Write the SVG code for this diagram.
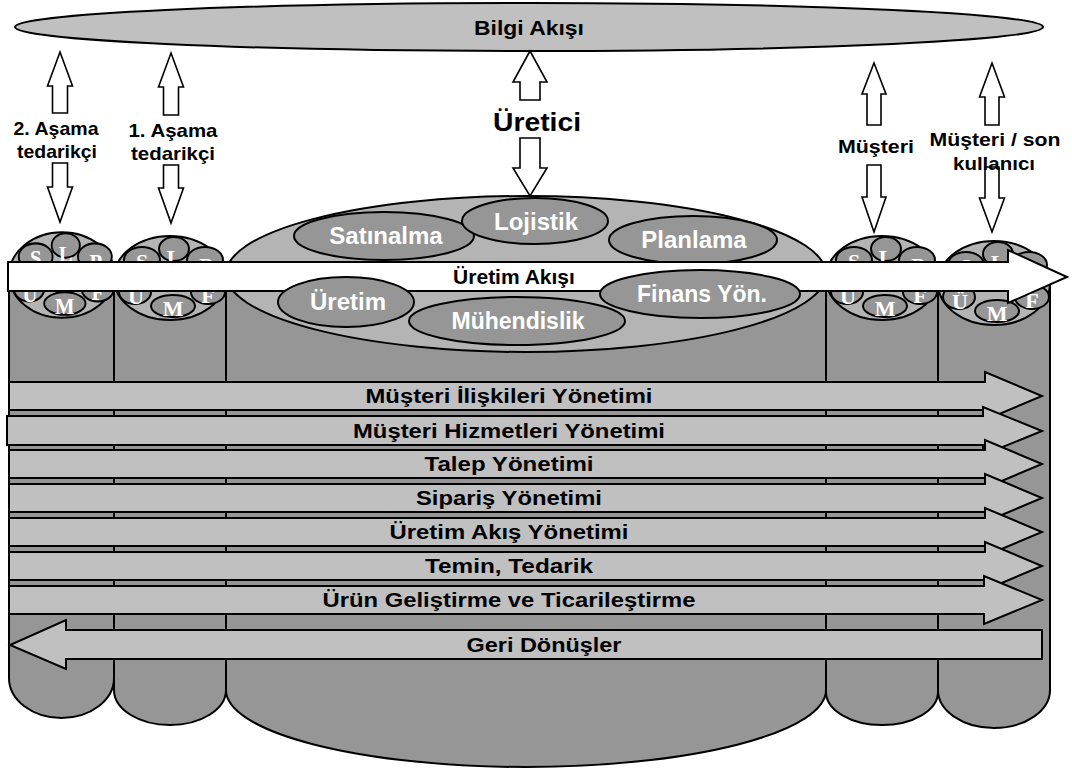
<svg xmlns="http://www.w3.org/2000/svg" width="1072" height="772" viewBox="0 0 1072 772">
<defs>
<style>
.body{fill:#969696;stroke:#000;stroke-width:2}
.cap{fill:#b4b4b4;stroke:#000;stroke-width:2}
.sub{fill:#969696;stroke:#000;stroke-width:2}
.bar{fill:#c0c0c0;stroke:#000;stroke-width:2}
.flow{fill:#fff;stroke:#000;stroke-width:2}
.va{fill:#fff;stroke:#000;stroke-width:1.6}
.info{fill:#c0c0c0;stroke:#000;stroke-width:2}
text{font-family:"Liberation Sans",Arial,sans-serif;font-weight:bold;text-anchor:middle;fill:#000}
.ltr{font-family:"Liberation Serif","Times New Roman",serif;font-size:22px;fill:#fff}
.lbl{font-size:19px}
.bt{font-size:19.5px}
.it{font-size:24px;fill:#fff}
</style>
<!-- small company cylinder top: functions S, L, P, Ü, M, F -->
<g id="minicap">
  <ellipse rx="56" ry="42" class="cap"/>
  <ellipse cx="-28" cy="-18" rx="18" ry="13" class="sub"/>
  <ellipse cx="35" cy="-18" rx="18" ry="13" class="sub"/>
  <ellipse cx="4" cy="-29" rx="15" ry="12" class="sub"/>
  <ellipse cx="-35" cy="14" rx="16" ry="12" class="sub"/>
  <ellipse cx="38" cy="14" rx="17" ry="12" class="sub"/>
  <ellipse cx="3" cy="28" rx="22" ry="11" class="sub"/>
  <text class="ltr" x="-28" y="-9">S</text>
  <text class="ltr" x="4" y="-13">L</text>
  <text class="ltr" x="36" y="-5">P</text>
  <text class="ltr" x="-34" y="26">Ü</text>
  <text class="ltr" x="38" y="25">F</text>
  <text class="ltr" x="3" y="38">M</text>
</g>
</defs>

<!-- information flow band -->
<g id="bilgi-akisi">
  <ellipse cx="529" cy="27" rx="514" ry="24" class="info"/>
  <text x="529" y="35" style="font-size:21px" textLength="110" lengthAdjust="spacingAndGlyphs">Bilgi Akışı</text>
</g>

<!-- supply chain members as cylinders -->
<g id="tedarikci-2">
  <path class="body" d="M9,275 L9,678 A52.5,40 0 0 0 114,678 L114,275 Z"/>
  <use href="#minicap" transform="translate(62,275) scale(0.94,1.02)"/>
</g>
<g id="tedarikci-1">
  <path class="body" d="M114,278 L114,690 A56,35 0 0 0 226,690 L226,278 Z"/>
  <use href="#minicap" transform="translate(170,278)"/>
</g>
<g id="musteri">
  <path class="body" d="M826,278 L826,692 A56,33 0 0 0 938,692 L938,278 Z"/>
  <use href="#minicap" transform="translate(882,278)"/>
</g>
<g id="son-kullanici">
  <path class="body" d="M938,283 L938,690 A56,38 0 0 0 1050,690 L1050,283 Z"/>
  <use href="#minicap" transform="translate(994,283)"/>
</g>
<g id="uretici">
  <path class="body" d="M226,274 L226,690 A300,77 0 0 0 826,690 L826,274 Z"/>
  <ellipse cx="526" cy="274" rx="300" ry="78" class="cap"/>
  <ellipse cx="384" cy="236" rx="90" ry="24" class="sub"/>
  <text class="it" x="386" y="244">Satınalma</text>
  <ellipse cx="535" cy="221" rx="73" ry="23" class="sub"/>
  <text class="it" x="536" y="230">Lojistik</text>
  <ellipse cx="693" cy="240" rx="84" ry="24" class="sub"/>
  <text class="it" x="694" y="248">Planlama</text>
</g>

<!-- production flow arrow -->
<g id="uretim-akisi">
  <polygon class="flow" points="8,262 1008,262 1008,250 1067,277 1008,303 1008,291 8,291"/>
  <text x="514" y="284" style="font-size:21px">Üretim Akışı</text>
</g>

<g id="uretici-alt">
  <ellipse cx="346" cy="302" rx="68" ry="25" class="sub"/>
  <text class="it" x="348" y="310">Üretim</text>
  <ellipse cx="517" cy="321" rx="108" ry="24" class="sub"/>
  <text class="it" x="518" y="329" style="font-size:23px">Mühendislik</text>
  <ellipse cx="700" cy="294" rx="100" ry="24" class="sub"/>
  <text class="it" x="702" y="302" style="font-size:23px">Finans Yön.</text>
</g>

<!-- business processes across the chain -->
<g id="surecler">
  <polygon class="bar" points="9,382 985,382 985,372 1042,396 985,420 985,410 9,410"/>
  <text class="bt" x="509" y="403" textLength="287" lengthAdjust="spacingAndGlyphs">Müşteri İlişkileri Yönetimi</text>
  <polygon class="bar" points="7,416 983,416 983,407 1042,431 983,455 983,445 7,445"/>
  <text class="bt" x="509" y="438" textLength="312" lengthAdjust="spacingAndGlyphs">Müşteri Hizmetleri Yönetimi</text>
  <polygon class="bar" points="9,450 985,450 985,440 1042,464 985,488 985,478 9,478"/>
  <text class="bt" x="509" y="471" textLength="169" lengthAdjust="spacingAndGlyphs">Talep Yönetimi</text>
  <polygon class="bar" points="9,484 985,484 985,474 1042,498 985,522 985,512 9,512"/>
  <text class="bt" x="509" y="505" textLength="186" lengthAdjust="spacingAndGlyphs">Sipariş Yönetimi</text>
  <polygon class="bar" points="9,518 985,518 985,508 1042,532 985,556 985,546 9,546"/>
  <text class="bt" x="509" y="539" textLength="239" lengthAdjust="spacingAndGlyphs">Üretim Akış Yönetimi</text>
  <polygon class="bar" points="9,552 985,552 985,542 1042,566 985,590 985,580 9,580"/>
  <text class="bt" x="509" y="573" textLength="168" lengthAdjust="spacingAndGlyphs">Temin, Tedarik</text>
  <polygon class="bar" points="9,586 984,586 984,576 1042,600 984,624 984,614 9,614"/>
  <text class="bt" x="509" y="607" textLength="373" lengthAdjust="spacingAndGlyphs">Ürün Geliştirme ve Ticarileştirme</text>
  <polygon class="bar" points="1042,630 66,630 66,620 10,645 66,669 66,659 1042,659"/>
  <text class="bt" x="544" y="652" textLength="155" lengthAdjust="spacingAndGlyphs">Geri Dönüşler</text>
</g>

<!-- information links between members and the information band -->
<g id="connectors">
  <polygon class="va" points="60,52 72.5,86 67.5,86 67.5,113 52.5,113 52.5,86 47.5,86"/>
  <polygon class="va" points="52.5,163 67.5,163 67.5,187 72.5,187 60,222 47.5,187 52.5,187"/>
  <polygon class="va" points="171,53 183.5,87 178.5,87 178.5,115 163.5,115 163.5,87 158.5,87"/>
  <polygon class="va" points="163.5,165 178.5,165 178.5,188 183.5,188 171,223 158.5,188 163.5,188"/>
  <polygon class="va" points="530,51 547,82 540,82 540,100 520,100 520,82 513,82"/>
  <polygon class="va" points="520,138 540,138 540,168 547,168 530,196 513,168 520,168"/>
  <polygon class="va" points="874,63 886,94 881,94 881,125 867,125 867,94 862,94"/>
  <polygon class="va" points="867,165 881,165 881,197 886,197 874,232 862,197 867,197"/>
  <polygon class="va" points="992,63 1004.5,97 999,97 999,125 985,125 985,97 979.5,97"/>
  <polygon class="va" points="985,167 999,167 999,198 1004.5,198 992,232 979.5,198 985,198"/>
</g>

<!-- member labels -->
<g id="etiketler">
  <text class="lbl" x="56" y="135" textLength="85" lengthAdjust="spacingAndGlyphs">2. Aşama</text>
  <text class="lbl" x="57" y="158" textLength="80" lengthAdjust="spacingAndGlyphs">tedarikçi</text>
  <text class="lbl" x="173" y="137" textLength="89" lengthAdjust="spacingAndGlyphs">1. Aşama</text>
  <text class="lbl" x="173" y="160" textLength="84" lengthAdjust="spacingAndGlyphs">tedarikçi</text>
  <text x="537" y="131" style="font-size:26px" textLength="88" lengthAdjust="spacingAndGlyphs">Üretici</text>
  <text class="lbl" x="876" y="153" textLength="76" lengthAdjust="spacingAndGlyphs">Müşteri</text>
  <text class="lbl" x="995" y="146" textLength="131" lengthAdjust="spacingAndGlyphs">Müşteri / son</text>
  <text class="lbl" x="994" y="170" textLength="82" lengthAdjust="spacingAndGlyphs">kullanıcı</text>
</g>
</svg>
